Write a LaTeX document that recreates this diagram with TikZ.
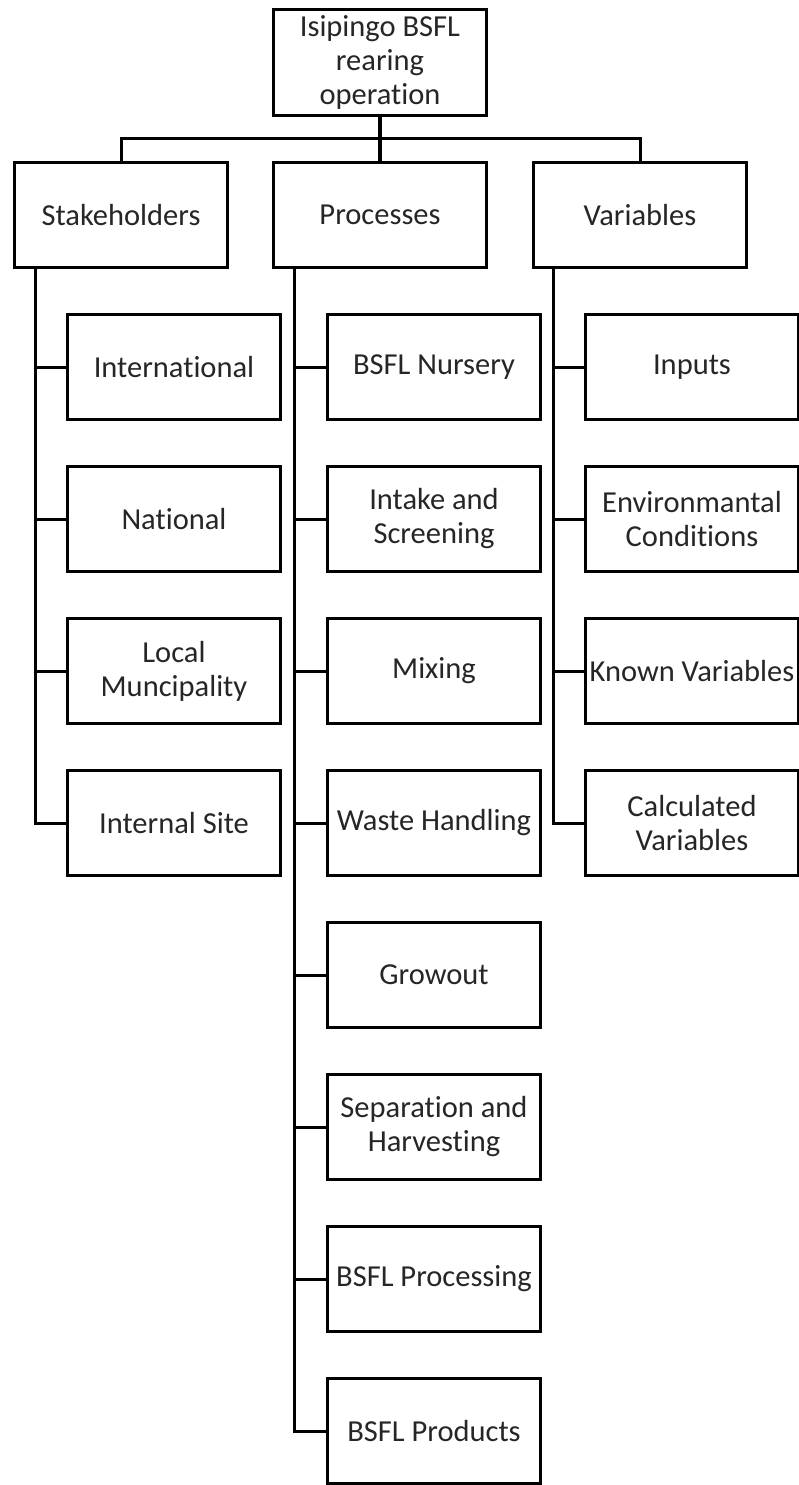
\documentclass[tikz,border=0pt]{standalone}
\usepackage{fontspec}
\setmainfont{Carlito}[Ligatures=NoCommon]

\begin{document}
\begin{tikzpicture}[
  x=1pt, y=1pt,
  every node/.style={font=\fontsize{30.5}{34}\selectfont, text=black!85},
  box/.style={
    draw=black,
    fill=white,
    line width=3pt,
    minimum width=213pt,
    minimum height=105pt,
    inner sep=0pt,
    align=center
  },
  link/.style={draw=black, line width=3pt},
]
\useasboundingbox (0,0) rectangle (799,-1485);

% Top of the tree.
\node[box, minimum height=106pt] (root) at (380,-62.5) {Isipingo BSFL\\rearing\\operation};

% Three branches.
\node[box] (stake) at (121,-215) {Stakeholders};
\node[box] (proc) at (380,-215) {Processes};
\node[box] (vars) at (640,-215) {Variables};

\coordinate (bus) at (380,-139);
\draw[link, line width=4.5pt] (root) -- (proc);
\draw[link] (stake.north) |- (bus) -| (vars.north);

% Stakeholders column.
\node[box] (intl) at (174,-367) {International};
\node[box] (natl) at (174,-519) {National};
\node[box] (local) at (174,-671) {Local\\Muncipality};
\node[box] (site) at (174,-823) {Internal Site};

\foreach \c in {intl,natl,local,site}
  \draw[link] ([xshift=22pt]stake.south west) |- (\c.west);

% Processes column.
\node[box] (nursery) at (434,-367) {BSFL Nursery};
\node[box] (intake) at (434,-519) {Intake and\\Screening};
\node[box] (mixing) at (434,-671) {Mixing};
\node[box] (waste) at (434,-823) {Waste Handling};
\node[box] (growout) at (434,-975) {Growout};
\node[box] (harvest) at (434,-1127) {Separation and\\Harvesting};
\node[box] (bsflproc) at (434,-1279) {BSFL Processing};
\node[box] (products) at (434,-1431) {BSFL Products};

\foreach \c in {nursery,intake,mixing,waste,growout,harvest,bsflproc,products}
  \draw[link] ([xshift=22pt]proc.south west) |- (\c.west);

% Variables column.
\node[box] (inputs) at (692,-367) {Inputs};
\node[box] (env) at (692,-519) {Environmantal\\Conditions};
\node[box] (known) at (692,-671) {Known Variables};
\node[box] (calc) at (692,-823) {Calculated\\Variables};

\foreach \c in {inputs,env,known,calc}
  \draw[link] ([xshift=21pt]vars.south west) |- (\c.west);

\end{tikzpicture}
\end{document}
